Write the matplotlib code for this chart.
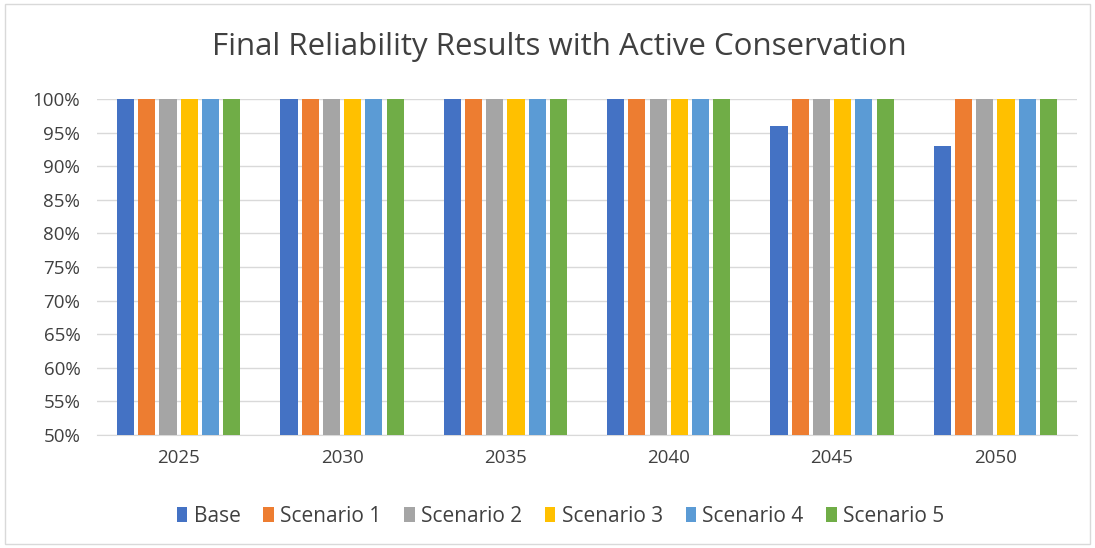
import matplotlib
matplotlib.use("Agg")
import matplotlib.pyplot as plt
import numpy as np
from matplotlib.patches import Rectangle

years = ["2025", "2030", "2035", "2040", "2045", "2050"]
series_names = ["Base", "Scenario 1", "Scenario 2", "Scenario 3", "Scenario 4", "Scenario 5"]
base = [100, 100, 100, 100, 96, 93]
scenario1 = [100, 100, 100, 100, 100, 100]
scenario2 = [100, 100, 100, 100, 100, 100]
scenario3 = [100, 100, 100, 100, 100, 100]
scenario4 = [100, 100, 100, 100, 100, 100]
scenario5 = [100, 100, 100, 100, 100, 100]
colors = ["#4472C4", "#ED7D31", "#A5A5A5", "#FFC000", "#5B9BD5", "#70AD47"]

plt.rcParams['font.family'] = ['Open Sans', 'DejaVu Sans']

fig = plt.figure(figsize=(10.95, 5.48), dpi=100)
fig.patches.append(Rectangle((0.005, 0.008), 0.99, 0.984, transform=fig.transFigure,
                             fill=False, edgecolor="#D9D9D9", linewidth=1.0))
ax = fig.add_axes([0.0886, 0.2062, 0.895, 0.6131])

data = [base, scenario1, scenario2, scenario3, scenario4, scenario5]
x = np.arange(len(years))
slot = 0.13
bw = 0.105
for i, (vals, name, c) in enumerate(zip(data, series_names, colors)):
    off = (i - 2.5) * slot
    ax.bar(x + off, np.array(vals) - 50, bottom=50, width=bw, color=c, label=name, zorder=3)

ax.set_xlim(-0.5, len(years) - 0.5)
ax.set_ylim(50, 100)
ax.set_yticks(np.arange(50, 101, 5))
ax.set_yticklabels([f"{v}%" for v in range(50, 101, 5)], fontsize=13.5, color="#404040")
ax.set_xticks(x)
ax.set_xticklabels(years, fontsize=13.5, color="#404040")
ax.tick_params(axis='both', length=0)
ax.tick_params(axis='y', pad=12)
ax.tick_params(axis='x', pad=10)
ax.grid(axis='y', color="#D9D9D9", linewidth=1, zorder=0)
for s in ["top", "right", "left"]:
    ax.spines[s].set_visible(False)
ax.spines["bottom"].set_color("#D9D9D9")

fig.text(0.511, 0.915, "Final Reliability Results with Active Conservation",
         ha="center", va="center", fontsize=22.5, color="#404040")

leg = fig.legend(loc="center", bbox_to_anchor=(0.512, 0.058), ncol=6, frameon=False,
                 fontsize=15, handlelength=0.5, handleheight=0.8, handletextpad=0.3,
                 columnspacing=1.1)
for t in leg.get_texts():
    t.set_color("#404040")

fig.savefig("out.png", dpi=100)
